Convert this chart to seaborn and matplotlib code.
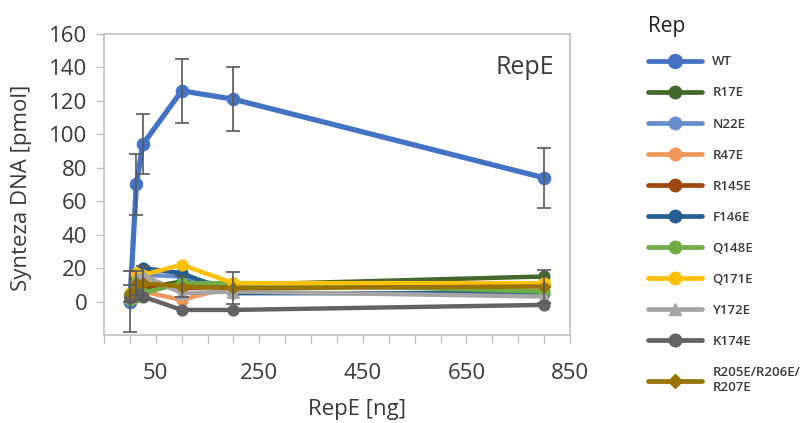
import matplotlib
matplotlib.use("Agg")
import matplotlib.pyplot as plt
from matplotlib.lines import Line2D
from matplotlib.ticker import MultipleLocator, FixedLocator
import seaborn as sns
import pandas as pd

# ---- data ----
rep_ng = [0, 12.5, 25, 100, 200, 800]
series_names = ["WT", "R17E", "N22E", "R47E", "R145E", "F146E", "Q148E",
                "Q171E", "Y172E", "K174E", "R205E/R206E/\nR207E"]
wt = [0, 70, 94, 126, 121, 74]
r17e = [3, 5, 8, 12, 10, 15]
n22e = [4, 12, 16, 15, 8, 10]
r47e = [2, 8, 6, 1, 9, 11]
r145e = [3, 9, 10, 8, 9, 10]
f146e = [4, 14, 20, 17, 5, 5]
q148e = [1, 3, 5, 11, 11, 6]
q171e = [5, 17, 16, 22, 11, 11]
y172e = [3, 14, 16, 5, 6, 3]
k174e = [2, 6, 3, -5, -5, -2]
r205e = [5, 11, 11, 9, 8, 9]
wt_err = [18, 18, 18, 19, 19, 18]
r205e_err = [5, 7, 10, 6, 9.5, 10]

x_ticks = [50, 250, 450, 650, 850]
y_ticks = [0, 20, 40, 60, 80, 100, 120, 140, 160]

values = [wt, r17e, n22e, r47e, r145e, f146e, q148e, q171e, y172e, k174e, r205e]
colors = ["#4472C4", "#43682B", "#698ED0", "#F1975A", "#9E480E", "#255E91",
          "#70AD47", "#FFC000", "#A5A5A5", "#636363", "#997300"]
markers = ["o", "o", "o", "o", "o", "o", "o", "o", "^", "o", "D"]
msizes = [9, 8, 8, 8, 8, 8, 8, 8, 8, 8, 6]
lwidths = [3.8, 3.2, 3.2, 3.2, 3.2, 3.2, 3.2, 3.2, 3.2, 3.2, 3.2]

rows = []
for name, vals in zip(series_names, values):
    for xv, yv in zip(rep_ng, vals):
        rows.append({"Rep": name, "RepE": xv, "DNA": yv})
df = pd.DataFrame(rows)

sns.set_theme(style="white")
plt.rcParams["font.family"] = ["Open Sans", "DejaVu Sans"]

fig = plt.figure(figsize=(8.11, 4.23), dpi=100)
ax = fig.add_axes([104 / 811, 1 - 335 / 423, 466 / 811, 301 / 423])

text_col = "#3A3A3A"
err_col = "#595959"

for i, name in enumerate(series_names):
    sub = df[df["Rep"] == name]
    sns.lineplot(data=sub, x="RepE", y="DNA", ax=ax, color=colors[i],
                 marker=markers[i], markersize=msizes[i], linewidth=lwidths[i],
                 markeredgecolor=colors[i], legend=False, zorder=3 + i,
                 solid_capstyle="round", solid_joinstyle="round")
    if name == "WT":
        ax.errorbar(rep_ng, wt, yerr=wt_err, fmt="none", ecolor=err_col,
                    elinewidth=1.2, capsize=5, capthick=1.2, zorder=20)
    if name.startswith("R205E"):
        ax.errorbar(rep_ng, r205e, yerr=r205e_err, fmt="none", ecolor=err_col,
                    elinewidth=1.2, capsize=5, capthick=1.2, zorder=20)

ax.set_xlim(-50, 850)
ax.set_ylim(-20, 160)
ax.xaxis.set_major_locator(FixedLocator(x_ticks))
ax.xaxis.set_minor_locator(MultipleLocator(50))
ax.yaxis.set_major_locator(FixedLocator(y_ticks))

for sp in ax.spines.values():
    sp.set_color("#BFBFBF")
    sp.set_linewidth(1.2)

ax.tick_params(axis="x", which="both", direction="out", bottom=True,
               length=6, color="#BFBFBF", width=1.0, labelsize=16,
               labelcolor=text_col, pad=14)
ax.tick_params(axis="x", which="minor", length=6)
ax.tick_params(axis="y", which="major", direction="out", left=True,
               length=6, color="#BFBFBF", width=1.0, labelsize=16,
               labelcolor=text_col, pad=6)

ax.set_xlabel("RepE [ng]", fontsize=16, color=text_col)
ax.set_ylabel("Synteza DNA [pmol]", fontsize=16, color=text_col)
ax.xaxis.label.set_va("center")
ax.yaxis.label.set_va("center")
ax.xaxis.set_label_coords(0.543, -0.249)
ax.yaxis.set_label_coords(-0.176, 0.49)
ax.text(0.902, 0.89, "RepE", transform=ax.transAxes, fontsize=18,
        color=text_col, ha="center", va="center")

handles = [Line2D([0], [0], color=colors[i], lw=3.4, marker=markers[i],
                  markersize=msizes[i] + 1, markeredgecolor=colors[i],
                  solid_capstyle="round")
           for i in range(len(series_names))]
leg = fig.legend(handles, series_names, title="Rep", loc="upper left",
                 bbox_to_anchor=(643 / 811, 1 - 11 / 423), frameon=False,
                 fontsize=9.5, title_fontsize=15, handlelength=4.1,
                 labelspacing=1.37, handletextpad=0.75, borderaxespad=0)
leg._legend_box.align = "left"
for t in leg.get_texts():
    t.set_color(text_col)
    t.set_fontweight("semibold")
leg.get_title().set_color("#202020")

fig.savefig("out.png", dpi=100)
